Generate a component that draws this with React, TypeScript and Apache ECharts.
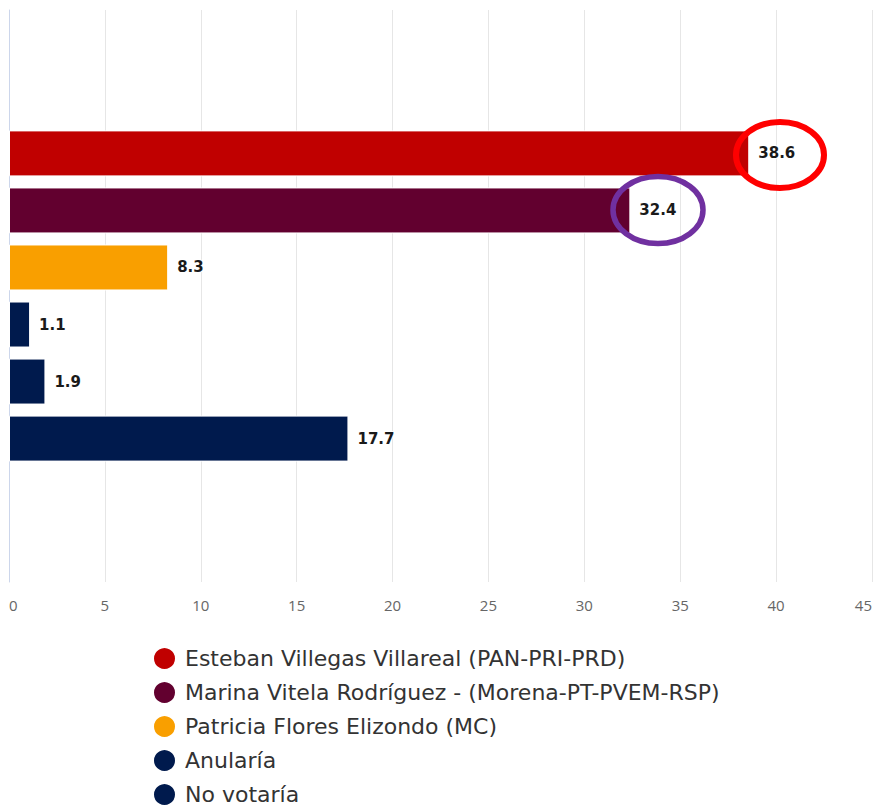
import React, { useEffect, useRef } from "react";
import * as echarts from "echarts";

const seriesNames = [
  "Esteban Villegas Villareal (PAN-PRI-PRD)",
  "Marina Vitela Rodríguez - (Morena-PT-PVEM-RSP)",
  "Patricia Flores Elizondo (MC)",
  "Anularía",
  "No votaría",
  "No sabe / No contestó",
];
const seriesValues = [38.6, 32.4, 8.3, 1.1, 1.9, 17.7];
const seriesColors = ["#C00000", "#62002F", "#F99F00", "#001A4D", "#001A4D", "#001A4D"];
const legendNames = seriesNames.slice(0, 5);
const categories = [""];

export default function App() {
  const ref = useRef<HTMLDivElement>(null);
  useEffect(() => {
    if (!ref.current) return;
    const chart = echarts.init(ref.current, undefined, { renderer: "svg" });
    chart.setOption({
      animation: false,
      backgroundColor: "#ffffff",
      grid: { left: 9, right: 3, top: 10, bottom: 225, containLabel: false },
      xAxis: {
        type: "value",
        min: 0,
        max: 45,
        interval: 5,
        axisLine: { show: false },
        axisTick: { show: false },
        splitLine: { show: true, lineStyle: { color: "#e6e6e6", width: 1 } },
        axisLabel: {
          color: "#666666",
          fontSize: 15,
          fontFamily: "Open Sans",
          margin: 15,
          alignMinLabel: "left",
          alignMaxLabel: "right",
        },
      },
      yAxis: {
        type: "category",
        data: categories,
        inverse: true,
        axisLine: { show: true, lineStyle: { color: "#ccd6eb", width: 1 } },
        axisTick: { show: false },
        axisLabel: { show: false },
        splitLine: { show: false },
      },
      legend: {
        orient: "vertical",
        left: 152,
        top: 646,
        height: 300,
        padding: 0,
        data: legendNames,
        icon: "circle",
        itemWidth: 23,
        itemHeight: 23,
        itemGap: 9,
        textStyle: {
          fontSize: 22,
          lineHeight: 23,
          color: "#333333",
          fontFamily: "DejaVu Sans",
          padding: [0, 0, 0, 4],
        },
      },
      series: seriesNames.map((name, i) => ({
        name,
        type: "bar",
        data: [seriesValues[i]],
        barWidth: 46,
        barGap: "24%",
        itemStyle: { color: seriesColors[i], borderColor: "#ffffff", borderWidth: 1 },
        label: {
          show: true,
          position: "right",
          distance: 9,
          color: "#1a1a1a",
          fontWeight: "bold",
          fontSize: 15,
          fontFamily: "DejaVu Sans",
          textBorderColor: "#ffffff",
          textBorderWidth: 2,
        },
      })),
      graphic: [
        {
          type: "ellipse",
          z: 100,
          shape: { cx: 780, cy: 155, rx: 44, ry: 33 },
          style: { fill: "none", stroke: "#FF0000", lineWidth: 6 },
        },
        {
          type: "ellipse",
          z: 100,
          shape: { cx: 658, cy: 210, rx: 45, ry: 33.5 },
          style: { fill: "none", stroke: "#7030A0", lineWidth: 5.5 },
        },
      ],
    });
    return () => chart.dispose();
  }, []);
  return (
    <div
      ref={ref}
      style={{ position: "absolute", left: 0, top: 0, width: 875, height: 807 }}
    />
  );
}
